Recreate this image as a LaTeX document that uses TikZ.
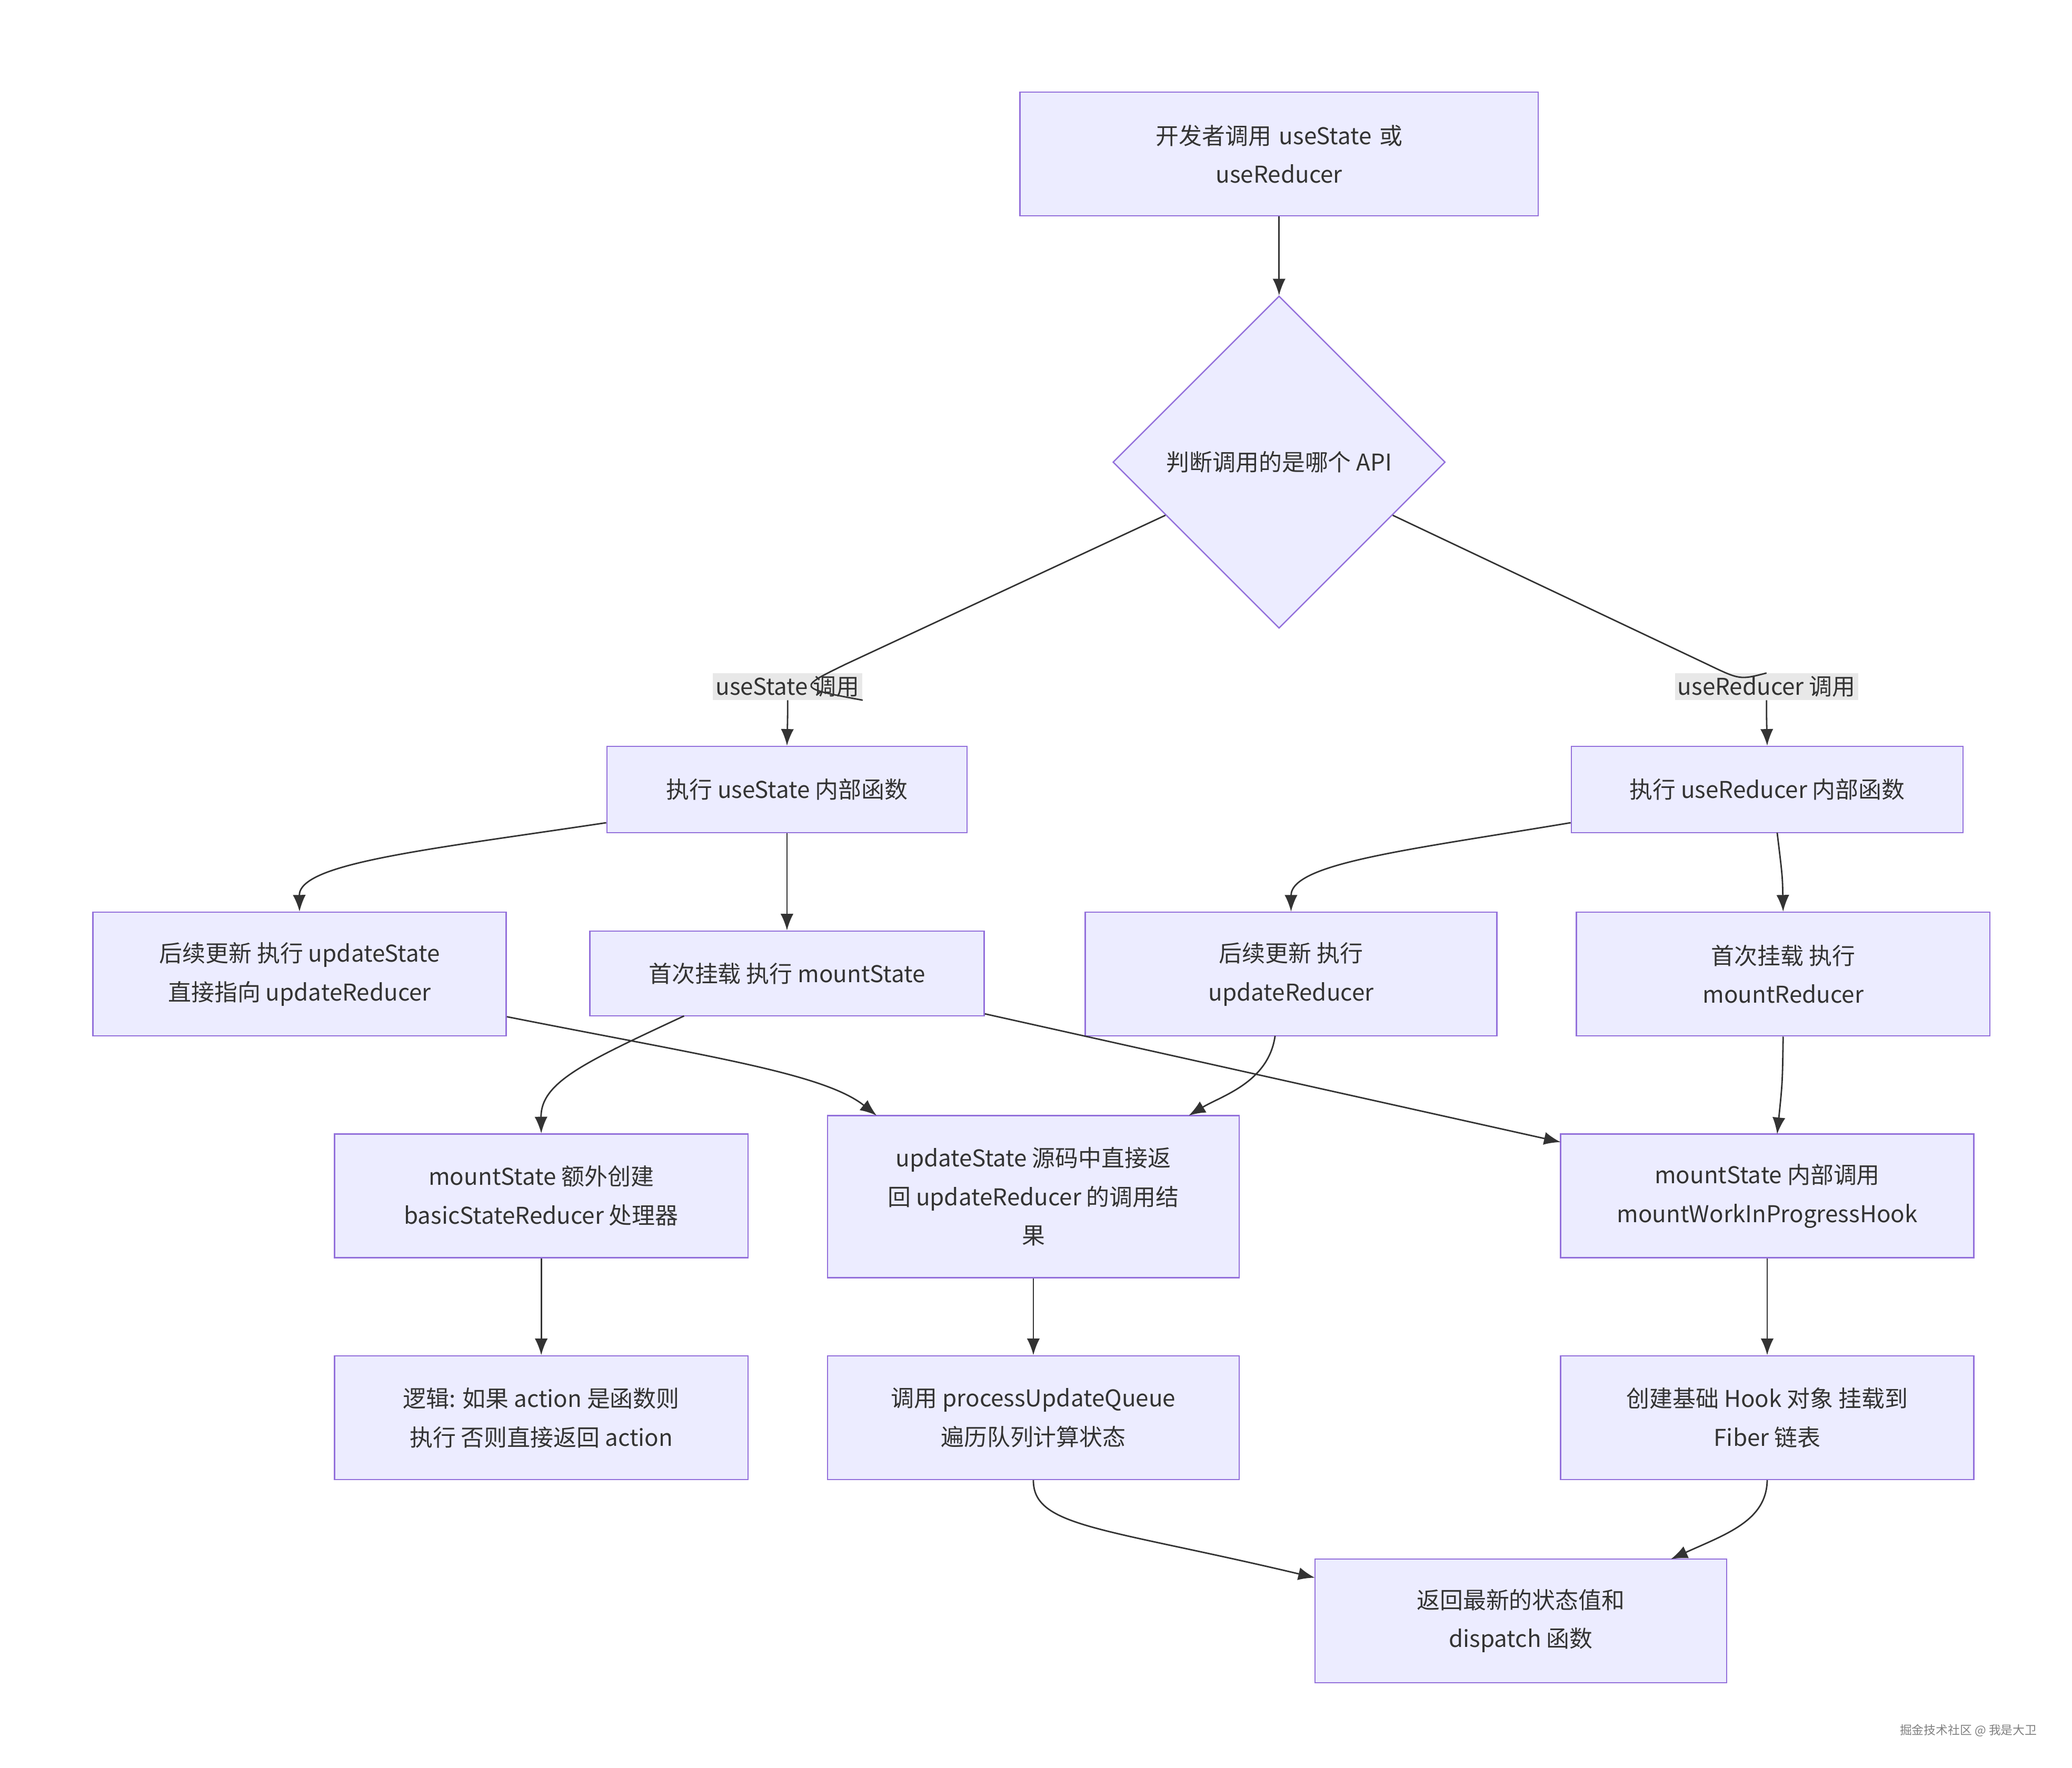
\documentclass[tikz,border=0pt]{standalone}
\usepackage{fontspec}
\setmainfont{Noto Sans CJK SC}
\usetikzlibrary{shapes.geometric,arrows.meta}
\definecolor{nfill}{HTML}{ECECFF}
\definecolor{nline}{HTML}{9370DB}
\definecolor{eline}{HTML}{333333}
\definecolor{lbg}{HTML}{E8E8E8}
\begin{document}
\begin{tikzpicture}[x=0.02523cm,y=-0.02523cm,
  font=\fontsize{12.5}{21}\selectfont, text=eline,
  box/.style={draw=nline,fill=nfill,line width=0.7pt,align=center,inner sep=0pt},
  lab/.style={fill=lbg,inner sep=1.5pt,text=eline},
  ar/.style={draw=eline,line width=0.8pt,-{Latex[length=9pt,width=7pt]}},
  ln/.style={draw=eline,line width=0.8pt}]
\useasboundingbox (0,0) rectangle (1560,1331);
\node[box,minimum width=310\pgflinewidth,text width=280] (top) at (963,116) [minimum width=7.82cm,minimum height=2.35cm] {开发者调用 useState 或\\useReducer};
\node[box,diamond,minimum width=6.31cm,minimum height=6.31cm,aspect=1] (dia) at (963,348) {判断调用的是哪个 API};
\node[lab] (l1) at (593,517) {useState 调用};
\node[lab] (l2) at (1330,517) {useReducer 调用};
\node[box,minimum width=6.84cm,minimum height=1.64cm] (A) at (592.5,594.5) {执行 useState 内部函数};
\node[box,minimum width=7.44cm,minimum height=1.64cm] (B) at (1330.5,594.5) {执行 useReducer 内部函数};
\node[box,minimum width=7.85cm,minimum height=2.35cm] (C) at (225.5,733.5) {后续更新 执行 updateState\\直接指向 updateReducer};
\node[box,minimum width=7.49cm,minimum height=1.61cm] (D) at (592.5,733) {首次挂载 执行 mountState};
\node[box,minimum width=7.82cm,minimum height=2.35cm] (E) at (972,733.5) {后续更新 执行\\updateReducer};
\node[box,minimum width=7.85cm,minimum height=2.35cm] (F) at (1342.5,733.5) {首次挂载 执行\\mountReducer};
\node[box,minimum width=7.85cm,minimum height=2.35cm] (G) at (407.5,900.5) {mountState 额外创建\\basicStateReducer 处理器};
\node[box,minimum width=7.82cm,minimum height=3.08cm] (H) at (778,901) {updateState 源码中直接返\\回 updateReducer 的调用结\\果};
\node[box,minimum width=7.85cm,minimum height=2.35cm] (I) at (1330.5,900.5) {mountState 内部调用\\mountWorkInProgressHook};
\node[box,minimum width=7.85cm,minimum height=2.35cm] (J) at (407.5,1067.5) {逻辑: 如果 action 是函数则\\执行 否则直接返回 action};
\node[box,minimum width=7.82cm,minimum height=2.35cm] (K) at (778,1067.5) {调用 processUpdateQueue\\遍历队列计算状态};
\node[box,minimum width=7.85cm,minimum height=2.35cm] (L) at (1330.5,1067.5) {创建基础 Hook 对象 挂载到\\Fiber 链表};
\node[box,minimum width=7.82cm,minimum height=2.35cm] (M) at (1145,1220.5) {返回最新的状态值和\\dispatch 函数};
\node[font=\fontsize{6.5}{8}\selectfont,text=gray] (wm) at (1482,1303) {掘金技术社区 @ 我是大卫};
% edges
\draw[ar] (top) -- (dia);
\draw[ln] (dia.west) ++(40,40) coordinate (d1) -- (637,500) .. controls (600,518) .. (l1.east |- l1.south) coordinate (x1);
\draw[ar] (l1.south) .. controls (593,540) .. (A.north);
\draw[ln] (dia.east) ++(-40,40) coordinate (d2) -- (1285,500) .. controls (1310,512) .. (l2.north);
\draw[ar] (l2.south) .. controls (1330,540) .. (B.north);
\draw[ar] (A.south west) ++(0,-8) coordinate (a1) .. controls (320,640) and (225,650) .. (C.north);
\draw[ar] (A) -- (D);
\draw[ar] (B.south west) ++(0,-8) coordinate (b1) .. controls (1060,640) and (972,650) .. (E.north);
\draw[ar] (1338,627) .. controls (1342,660) .. (F.north);
\draw[ar] (C.south east) ++(0,-15) coordinate (c1) .. controls (530,795) and (620,808) .. (660,840);
\draw[ar] (515,765) .. controls (440,800) and (407,815) .. (G.north);
\draw[ar] (D.south east) ++(0,-2) coordinate (e1) -- (1175,860);
\draw[ar] (960,780) .. controls (955,815) and (920,825) .. (895,840);
\draw[ar] (F.south) .. controls (1342,815) .. (1338,854);
\draw[ar] (G) -- (J);
\draw[ar] (H) -- (K);
\draw[ar] (I) -- (L);
\draw[ar] (K.south) .. controls (778,1150) and (830,1150) .. (990,1188);
\draw[ar] (L.south) .. controls (1330,1145) and (1300,1155) .. (1258,1174);
\end{tikzpicture}
\end{document}
